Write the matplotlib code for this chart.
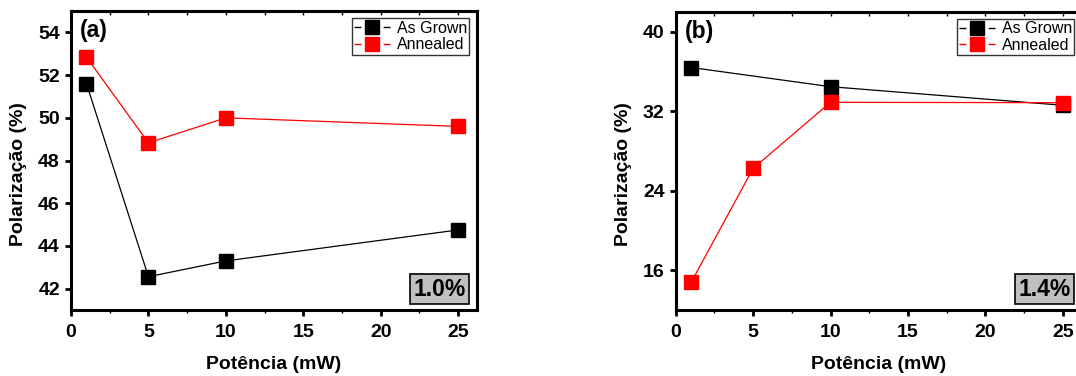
import matplotlib
matplotlib.use("Agg")
import matplotlib.pyplot as plt
from matplotlib.lines import Line2D
from matplotlib.ticker import MultipleLocator, NullFormatter

plt.rcParams['font.family'] = ['Liberation Sans', 'DejaVu Sans']

# Excitation power (mW)
power = [1, 5, 10, 25]

# Panel (a): 1.0% sample
a_grown = [51.6, 42.56, 43.3, 44.75]
a_annealed = [52.84, 48.83, 50.0, 49.6]

# Panel (b): 1.4% sample
b_grown_power = [1, 10, 25]
b_grown = [36.4, 34.47, 32.6]
b_annealed = [14.8, 26.25, 32.9, 32.86]

fig = plt.figure(figsize=(10.76, 3.76), dpi=100)
ax_a = fig.add_axes([0.066, 0.1755, 0.377, 0.795])
ax_b = fig.add_axes([0.628, 0.1755, 0.377, 0.793])


def style_axis(ax, ylim, ymajor, panel, tag):
    ax.set_xlim(0, 26.2)
    ax.set_ylim(*ylim)
    ax.xaxis.set_major_locator(MultipleLocator(5))
    ax.xaxis.set_minor_locator(MultipleLocator(2.5))
    ax.yaxis.set_major_locator(MultipleLocator(ymajor))
    for sp in ax.spines.values():
        sp.set_linewidth(2.2)
    ax.tick_params(which='major', direction='out', length=4, width=2,
                   labelsize=14)
    ax.tick_params(axis='x', which='major', pad=6)
    ax.tick_params(axis='y', which='major', pad=4)
    ax.tick_params(axis='x', which='minor', direction='out', length=2, width=1)
    for lab in ax.get_xticklabels() + ax.get_yticklabels():
        lab.set_fontweight('bold')
    ax.set_xlabel('Potência (mW)', fontsize=14, fontweight='bold', labelpad=11)
    ax.set_ylabel('Polarização (%)', fontsize=14, fontweight='bold')
    ax.yaxis.set_label_coords(-0.108, 0.455)

    # short inward marks along the top edge
    top = ax.twiny()
    top.set_xlim(ax.get_xlim())
    top.xaxis.set_major_locator(MultipleLocator(2.5))
    top.xaxis.set_major_formatter(NullFormatter())
    top.tick_params(axis='x', direction='in', length=3, width=1)
    for sp in top.spines.values():
        sp.set_visible(False)

    ax.text(0.022, 0.935, panel, transform=ax.transAxes, fontsize=16.5,
            fontweight='bold', va='center', ha='left')
    ax.text(0.973, 0.07, tag, transform=ax.transAxes, fontsize=16.5,
            fontweight='bold', va='center', ha='right',
            bbox=dict(boxstyle='square,pad=0.15', facecolor='#c0c0c0',
                      edgecolor='black', linewidth=1.2))
    handles = [
        Line2D([], [], color='black', marker='s', markersize=9.5,
               markerfacecolor='black', markeredgecolor='black',
               linewidth=1.0, linestyle=(0, (5, 16))),
        Line2D([], [], color='red', marker='s', markersize=9.5,
               markerfacecolor='red', markeredgecolor='red',
               linewidth=1.0, linestyle=(0, (5, 16))),
    ]
    leg = ax.legend(handles, ['As Grown', 'Annealed'], loc='upper right',
                    fontsize=11.5, frameon=True, fancybox=False,
                    borderaxespad=0.45, handlelength=2.26, handletextpad=0.4,
                    borderpad=0.15, labelspacing=0.1)
    leg.get_frame().set_edgecolor('black')
    leg.get_frame().set_linewidth(1.0)


mk = dict(marker='s', markersize=9.5, linewidth=0.9)
ax_a.plot(power, a_grown, color='black', markerfacecolor='black',
          markeredgecolor='black', **mk)
ax_a.plot(power, a_annealed, color='red', markerfacecolor='red',
          markeredgecolor='red', **mk)
ax_b.plot(b_grown_power, b_grown, color='black', markerfacecolor='black',
          markeredgecolor='black', **mk)
ax_b.plot(power, b_annealed, color='red', markerfacecolor='red',
          markeredgecolor='red', **mk)

for ax in (ax_a, ax_b):
    for line in ax.get_lines():
        line.set_clip_on(False)

style_axis(ax_a, (41, 55), 2, '(a)', '1.0%')
style_axis(ax_b, (12, 42), 8, '(b)', '1.4%')

fig.savefig('out.png', dpi=100)
